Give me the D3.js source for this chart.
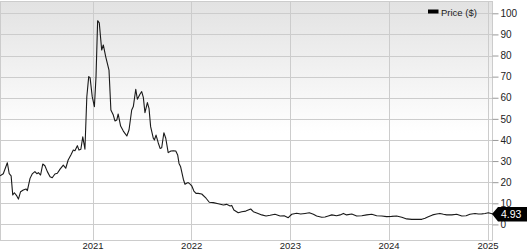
<!DOCTYPE html>
<html><head><meta charset="utf-8">
<script src="https://cdn.jsdelivr.net/npm/d3@7"></script>
<style>body{margin:0;background:#fff;}svg{display:block;font-family:"Liberation Sans",Arial,sans-serif;}</style>
</head><body><svg id="c" width="527" height="250"></svg>
<script>
const dates = ["2020-01-25","2020-02-06","2020-02-21","2020-02-28","2020-03-06","2020-03-12","2020-03-18","2020-03-27","2020-04-02","2020-04-10","2020-04-20","2020-04-30","2020-05-05","2020-05-15","2020-05-23","2020-06-02","2020-06-09","2020-06-15","2020-06-23","2020-07-01","2020-07-09","2020-07-18","2020-07-28","2020-08-05","2020-08-15","2020-08-24","2020-09-03","2020-09-15","2020-09-24","2020-10-03","2020-10-13","2020-10-22","2020-10-28","2020-11-06","2020-11-12","2020-11-19","2020-11-26","2020-12-01","2020-12-04","2020-12-11","2020-12-18","2020-12-23","2020-12-31",
"2021-01-08","2021-01-14","2021-01-20","2021-01-26","2021-02-04","2021-02-10","2021-02-19","2021-03-03","2021-03-10","2021-03-19","2021-03-25","2021-04-01","2021-04-06","2021-04-15","2021-04-25","2021-05-08","2021-05-16","2021-05-26","2021-06-01","2021-06-10","2021-06-16","2021-06-26","2021-07-02","2021-07-08","2021-07-14","2021-07-23","2021-07-29","2021-08-04","2021-08-14","2021-08-18","2021-08-24","2021-09-01","2021-09-08","2021-09-14","2021-09-22","2021-09-29","2021-10-08","2021-10-18","2021-10-27","2021-11-05","2021-11-12","2021-11-17","2021-11-23","2021-12-03","2021-12-09","2021-12-15","2021-12-21","2021-12-28",
"2022-01-03","2022-01-11","2022-01-19","2022-01-27","2022-02-09","2022-02-25","2022-03-09","2022-03-24","2022-04-11","2022-04-30","2022-05-12","2022-05-25","2022-05-31","2022-06-08","2022-06-24","2022-07-07","2022-07-22","2022-07-31","2022-08-09","2022-08-19","2022-09-03","2022-09-19","2022-10-05","2022-10-20","2022-11-07","2022-11-26","2022-12-11","2022-12-26",
"2023-01-08","2023-01-26","2023-02-10","2023-02-26","2023-03-14","2023-03-29","2023-04-10","2023-04-29","2023-05-11","2023-05-23","2023-06-05","2023-06-23","2023-07-06","2023-07-18","2023-07-30","2023-08-18","2023-09-05","2023-09-24","2023-10-12","2023-10-31","2023-11-18","2023-12-07","2023-12-25",
"2024-01-12","2024-01-31","2024-02-19","2024-03-08","2024-03-27","2024-04-14","2024-05-03","2024-05-15","2024-05-27","2024-06-12","2024-06-27","2024-07-09","2024-07-22","2024-08-03","2024-08-22","2024-09-09","2024-09-28","2024-10-14","2024-10-28","2024-11-16","2024-11-28","2024-12-11","2024-12-23","2025-01-04","2025-01-21"];
const prices = [23,24,29.2,24,23,14,15,13.5,12,15.5,16.3,16.8,16,21.8,23.9,25,24,24.5,23.4,28.6,27.8,25,22.6,22.1,23.9,24.2,26.2,28.1,26.6,30.5,32.9,35.2,34.9,37.3,35.2,35.6,41.5,37.9,35.6,60.5,70,69.5,60.5,
55.8,70,96.5,95.5,82.6,85,79.4,73.1,54.2,51.8,49,49.5,52.3,46.6,44.2,41.9,44.7,54.2,55.8,64,59.3,61.8,62.9,60.2,52.9,57.7,55,46.3,40.8,40,42.3,38.7,36,36.3,43.4,40.8,34,34.8,34.9,34.8,32.9,28.9,27.3,21.4,19,19.5,19.8,19.1,
18.3,15.8,14.7,14.7,14.4,12.4,10.5,10.3,9.8,9.2,9.5,8.7,9.0,6.8,5.5,6,6.3,6.8,7.3,6,5.3,4.5,4,4.3,4.8,4,4.1,3.2,
4.8,5.3,4.9,5.2,5.5,4.8,4,3.4,3.5,4,4.5,4.1,4.5,5.2,4.5,4.9,4,4.1,4.5,4.8,4.1,4,3.7,
3.8,4,3.4,2.6,2.4,2.4,2.4,2.9,3.6,4.5,4.9,5.2,4.8,4.5,4.5,4.8,4,4.1,4.8,5.2,4.9,5.0,5.2,5.5,4.93];
const yTicks = [0,10,20,30,40,50,60,70,80,90,100];
const xTicks = ["2021-01-01","2022-01-01","2023-01-01","2024-01-01","2025-01-01"];
const xTickLabels = ["2021","2022","2023","2024","2025"];
const seriesName = "Price ($)";
const lastLabel = "4.93";

const parse = d3.timeParse("%Y-%m-%d");
const data = dates.map((d,i)=>({date:parse(d), v:prices[i]}));
const svg = d3.select("#c");
const L = 0, R = 493, T = 1, B = 241;

const x = d3.scaleTime().domain([parse("2021-01-01"), parse("2025-01-01")]).range([92.5, 487.5]);
const y = d3.scaleLinear().domain([0,100]).range([224.4, 13.3]);

const defs = svg.append("defs");
const g = defs.append("linearGradient").attr("id","bg").attr("x1",0).attr("y1",0).attr("x2",0).attr("y2",1);
g.append("stop").attr("offset","0%").attr("stop-color","#e2e2e2");
g.append("stop").attr("offset","55%").attr("stop-color","#ffffff");
g.append("stop").attr("offset","100%").attr("stop-color","#ffffff");

svg.append("rect").attr("x",L).attr("y",T).attr("width",R-L).attr("height",B-T).attr("fill","url(#bg)");

svg.append("g").selectAll("line").data(yTicks).join("line")
  .attr("x1",L).attr("x2",R).attr("y1",d=>Math.round(y(d))+0.5).attr("y2",d=>Math.round(y(d))+0.5)
  .attr("stroke","#cccccc").attr("stroke-width",1);
svg.append("g").selectAll("line").data(xTicks).join("line")
  .attr("x1",d=>Math.round(x(parse(d)))+0.5).attr("x2",d=>Math.round(x(parse(d)))+0.5).attr("y1",T).attr("y2",B)
  .attr("stroke","#cccccc").attr("stroke-width",1);
svg.append("rect").attr("x",L+0.5).attr("y",T+0.5).attr("width",R-L-1).attr("height",B-T-1)
  .attr("fill","none").attr("stroke","#cccccc");

const yAxis = d3.axisRight(y).tickValues(yTicks).tickSize(6).tickPadding(2);
const ya = svg.append("g").attr("transform",`translate(${R-0.5},0)`).call(yAxis);
ya.select(".domain").remove();
ya.selectAll("line").attr("stroke","#999");
ya.selectAll("text").attr("font-size",10).attr("fill","#222").attr("font-family","Liberation Sans, Arial, sans-serif");

const xa = d3.axisBottom(x).tickValues(xTicks.map(parse)).tickFormat((d,i)=>xTickLabels[i]).tickSize(0).tickPadding(1);
const xg = svg.append("g").attr("transform",`translate(0,${B})`).call(xa);
xg.select(".domain").remove();
xg.selectAll("text").attr("font-size",9.5).attr("fill","#222").attr("font-family","Liberation Sans, Arial, sans-serif");

const line = d3.line().x(d=>x(d.date)).y(d=>y(d.v));
svg.append("path").datum(data).attr("d",line).attr("fill","none").attr("stroke","#1a1a1a").attr("stroke-width",1.1).attr("stroke-linejoin","round");

svg.append("rect").attr("x",428).attr("y",9.5).attr("width",10.5).attr("height",4).attr("fill","#000");
svg.append("text").attr("x",441).attr("y",15.5).attr("font-size",9.5).attr("fill","#222").text(seriesName);

const last = data[data.length-1];
const ly = y(last.v);
const cx = R - 1;
svg.append("path")
  .attr("d",`M${cx},${ly} L${cx+6},${ly-7} L527,${ly-7} L527,${ly+7.5} L${cx+6},${ly+7.5} Z`)
  .attr("fill","#000");
svg.append("text").attr("x",501).attr("y",ly+4).attr("font-size",10.5).attr("fill","#fff").text(lastLabel);
</script></body></html>
